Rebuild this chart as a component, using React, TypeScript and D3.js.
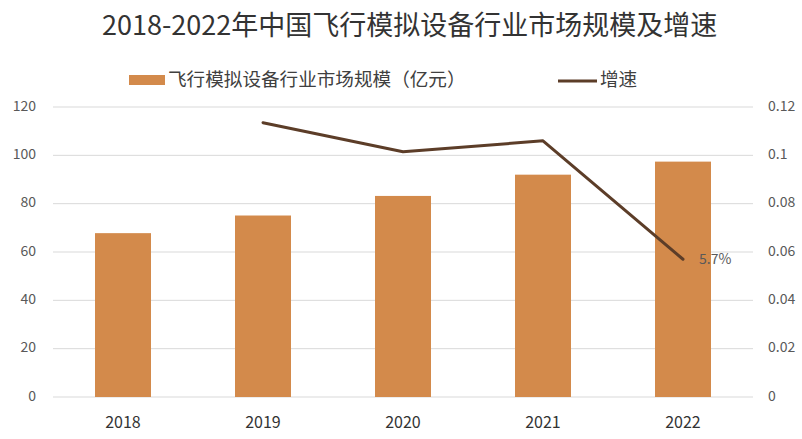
import React from "react";
import * as d3 from "d3";

const years = ["2018", "2019", "2020", "2021", "2022"];
const marketSize = [67.8, 75.1, 83.2, 92.0, 97.4];
const growthRate: (number | null)[] = [null, 0.1135, 0.1015, 0.106, 0.057];
const leftTicks = [0, 20, 40, 60, 80, 100, 120];
const rightTicks = [0, 0.02, 0.04, 0.06, 0.08, 0.1, 0.12];
const title = "2018-2022年中国飞行模拟设备行业市场规模及增速";
const barLegend = "飞行模拟设备行业市场规模（亿元）";
const lineLegend = "增速";
const lastLabel = "5.7%";

const W = 802;
const H = 439;
const FONT = "'Noto Sans CJK SC', 'Noto Sans', sans-serif";
const BAR = "#D38A4B";
const LINE = "#5C3D28";
const GRID = "#D9D9D9";

export default function App() {
  const x = d3.scaleBand<string>().domain(years).range([53, 753]).paddingInner(0.6).paddingOuter(0.3);
  const yL = d3.scaleLinear().domain([0, 120]).range([397, 107]);
  const yR = d3.scaleLinear().domain([0, 0.12]).range([397, 107]);
  const pts = years
    .map((yr, i) => ({ yr, v: growthRate[i] }))
    .filter((d) => d.v !== null) as { yr: string; v: number }[];
  const line = d3
    .line<{ yr: string; v: number }>()
    .x((d) => (x(d.yr) as number) + x.bandwidth() / 2)
    .y((d) => yR(d.v));
  const last = pts[pts.length - 1];
  return (
    <svg width={W} height={H} style={{ position: "fixed", left: 0, top: 0, background: "#fff" }} fontFamily={FONT}>
      <rect x={0} y={0} width={W} height={H} fill="#fff" />
      <text x={102} y={35} fontSize={27} fill="#333">{title}</text>
      <rect x={129} y={75} width={36} height={10} fill={BAR} />
      <text x={168} y={81} fontSize={18.6} fill="#404040" dominantBaseline="middle">{barLegend}</text>
      <line x1={558} x2={597} y1={81} y2={81} stroke={LINE} strokeWidth={3} />
      <text x={600} y={81} fontSize={18.6} fill="#404040" dominantBaseline="middle">{lineLegend}</text>
      {leftTicks.map((t) => (
        <line key={"g" + t} x1={53} x2={753} y1={yL(t)} y2={yL(t)} stroke={GRID} strokeWidth={1} />
      ))}
      {leftTicks.map((t) => (
        <text key={"l" + t} x={36} y={yL(t)} fontSize={14} fill="#595959" textAnchor="end" dominantBaseline="middle">{t}</text>
      ))}
      {rightTicks.map((t) => (
        <text key={"r" + t} x={768} y={yR(t)} fontSize={14} fill="#595959" dominantBaseline="middle">{String(+t.toFixed(2))}</text>
      ))}
      {years.map((yr, i) => (
        <rect key={"b" + yr} x={x(yr)} y={yL(marketSize[i])} width={x.bandwidth()} height={yL(0) - yL(marketSize[i])} fill={BAR} />
      ))}
      {years.map((yr) => (
        <text key={"x" + yr} x={(x(yr) as number) + x.bandwidth() / 2} y={428} fontSize={16} fill="#333" textAnchor="middle">{yr}</text>
      ))}
      <path d={line(pts) || ""} fill="none" stroke={LINE} strokeWidth={3} strokeLinejoin="round" strokeLinecap="round" />
      <text x={(x(last.yr) as number) + x.bandwidth() / 2 + 16} y={yR(last.v) + 1} fontSize={14} fill="#595959" dominantBaseline="middle">{lastLabel}</text>
    </svg>
  );
}
